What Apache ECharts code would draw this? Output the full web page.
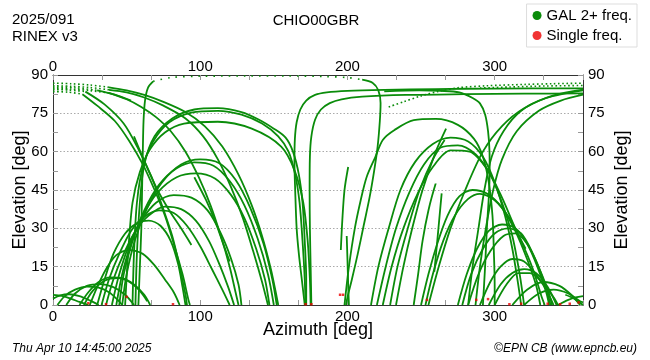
<!DOCTYPE html>
<html><head><meta charset="utf-8">
<script src="https://cdn.jsdelivr.net/npm/echarts@6/dist/echarts.min.js"></script>
<style>html,body{margin:0;padding:0;background:#fff}#c{width:650px;height:360px}</style>
</head><body><div id="c"></div>
<script>
// ---- tick labels ----
const azTicks = [0, 100, 200, 300];
const elTicks = [0, 15, 30, 45, 60, 75, 90];

// ---- satellite tracks [azimuth, elevation] ----
const lowArcsWest = [
  [[0,4],[6,3.6],[12,2.5],[18,1.2],[24,0]],
  [[0,2.5],[5,3.8],[11,4.2],[18,3.5],[25,1.8],[31,0]],
  [[3,0],[8,3.5],[15,6],[23,7.2],[31,6.8],[38,5],[44,2],[47,0]],
  [[9,0],[15,4.5],[23,7.5],[32,8.2],[41,7],[49,4],[55,0]],
  [[18,0],[24,5],[31,9],[39,10.8],[47,10.5],[55,8],[62,4],[66,0]],
  [[21,0],[27,5.5],[35,9.5],[44,10.5],[52,9],[59,5.5],[64,1.5]],
  [[25,0],[30,7],[36,14],[43,19.5],[52,21.5],[61,20],[69,15.5],[76,10],[82,5],[86,0]]
];
const midArcsWest = [
  [[30,0],[35,10],[41,20],[49,28],[57,32],[65,33],[73,31],[80,25],[85,16],[88,7],[90,0]],
  [[33,0],[38,10],[45,20],[53,29],[62,34.5],[72,37],[82,36],[91,31],[100,23],[108,14],[115,6],[120,0]],
  [[36,0],[41,10],[48,20],[56,29],[65,35],[76,38.5],[87,37.5],[97,33],[106,25],[113,16],[119,7],[123,0]],
  [[40,0],[45,12],[52,24],[60,33],[70,40],[82,43],[94,42],[105,37],[114,28],[121,18],[126,8],[128,0]],
  [[43,0],[47,12],[53,24],[61,35],[71,44],[84,50],[97,51.5],[110,49.5],[121,43],[130,34],[138,22],[144,10],[147,0]],
  [[45,0],[48,12],[54,25],[62,37],[72,47],[84,53.5],[96,55.8],[109,54.5],[120,48.5],[130,39],[139,26],[146,12],[150,0]],
  [[47,0],[50,12],[56,26],[64,38],[74,48],[87,55],[100,57],[113,55.5],[124,49],[134,38],[143,24],[149,10],[152,0]],
  [[55,66],[63,55],[71,45],[79,37],[87,30],[94,23.5]],
  [[96,50],[104,41],[110,33],[115,25],[120,17]]
];
const highArcsWest = [
  [[56,0],[57,20],[59,40],[62,55],[69,66],[81,73],[96,76.5],[112,77],[128,75.5],[140,72.5],[150,69],[158,65.5],[163,60],[167,51],[169.5,40],[171,25],[172,10],[172,0]],
  [[54,0],[55,20],[57,40],[61,54],[68,64],[79,71.5],[94,75.3],[112,76],[128,74.5],[142,71],[153,66],[160,60],[164.5,51],[167.5,40],[169.5,25],[171,10],[171.5,0]],
  [[49,0],[51,20],[54,40],[59,52],[66,61],[76,67.5],[89,71],[112,71.7],[135,69],[155,62],[164,52.8],[170,40],[173,25],[174.5,10],[175,0]],
  [[58,0],[59,15],[60,30],[60.5,45],[61,60],[61.5,72],[62.5,80],[64.5,85],[68,87.5]],
  [[171,0],[169,10],[167,20],[165.5,30],[164.5,45],[164,56],[164.3,65],[165.5,71.5],[168,76.5],[172,80],[178,82.2],[186,83.2],[200,83.8],[225,84.2],[260,84.5],[300,84.7],[360,84.8]],
  [[175.5,0],[175,15],[174.5,30],[174.3,45],[174.5,58],[175.5,66],[178,72.5],[182,76.5],[188,79],[196,80.5],[210,81.5],[240,82.2],[280,82.5],[320,82.7],[360,82.8]]
];
const descendingWest = [
  [[38,85.2],[50,84],[62,82.2],[75,79.5],[90,75.5],[103,70],[115,62],[126,51],[135,39],[142,27],[148,14],[152,3],[153,0]],
  [[38,84.2],[50,83.2],[62,81.2],[75,78],[90,73],[102,66],[112,57],[121,46],[129,34],[136,21],[142,9],[146,0]],
  [[38,83],[50,80.5],[60,77.5],[70,73.5],[80,68],[90,60],[99,50],[107,39],[114,27],[120,15],[124,5],[126,0]],
  [[30,84],[42,82.3],[53,80]],
  [[20,82.5],[30,78],[42,72],[52,64],[61,55],[69,45],[76,35],[82,24],[88,12],[92,2],[93,0]],
  [[22,83.5],[35,78.5],[48,71],[58,61],[67,50],[74,39],[81,27],[86,15],[90,4],[91,0]]
];
const nearZenithDotted = [
  [[0,86.8],[12,86.6],[25,86.1],[38,85.2]],
  [[0,85.8],[12,85.6],[25,85.1],[38,84.2]],
  [[0,84.8],[12,84.5],[25,83.9],[38,83]],
  [[0,85.3],[15,85],[30,84]],
  [[0,83.5],[10,83.3],[20,82.5]],
  [[0,84.3],[11,84.1],[22,83.5]],
  [[228,77.5],[238,79.5],[250,81.8],[262,83.6],[275,85],[295,85.8],[320,86.3],[340,86.6],[360,86.8]],
  [[290,84.9],[310,85.3],[335,85.7],[360,85.9]]
];
const zenithSparse = [
  [[68,87.5],[80,89],[100,89.5],[130,89.6],[160,89.6],[185,89.4],[200,89],[210,88.2]]
];
const descendingEast = [
  [[210,88.2],[217,87],[221,84],[222.5,79],[222,72],[220.5,62],[218,52],[215,42],[211,31],[207,20],[203,10],[200,3],[199,0]],
  [[225,83.6],[249,84],[263,83.8],[276,83.2],[285,81],[290,78.9],[293.5,74.5],[295.5,68],[296.5,60],[296.6,52],[296,42],[294.7,30],[293.5,15],[292,0]],
  [[195.5,21.5],[196.5,33],[198,45],[200.5,54]],
  [[199.5,27],[200,18],[200.5,8],[201,0]]
];
const arcsEast = [
  [[198,0],[201,15],[205,30],[209,41],[213,50],[219,58],[224,64.6],[232,68.5],[245,72.3],[260,72.8],[275,70.5],[286,65],[292,58],[296,48],[298.5,35],[299.5,20],[300,8],[300,0]],
  [[216,0],[221,15],[228,30],[236,45],[246,56],[258,63],[270,65.5],[282,64],[292,58],[300,48],[307,35],[312,22],[316,8],[318,0]],
  [[220,0],[226,15],[233,30],[242,44],[252,55],[263,61.5],[275,62.5],[287,59],[297,51],[305,40],[312,27],[317,12],[320,0]],
  [[224,0],[230,15],[238,30],[248,44],[258,54],[270,60.5],[283,60],[295,53],[305,42],[314,30],[321,22]],
  [[250,0],[255,12],[261,24],[268,35],[276,42.5],[285,45],[295,43.5],[305,38],[314,29],[322,18],[328,8],[331,0]],
  [[253,0],[258,12],[265,25],[273,35],[282,41.5],[290,43.5],[300,41],[310,34],[318,25],[326,14],[332,3],[334,0]],
  [[275,0],[281,12],[288,22],[296,29],[305,31.5],[314,30],[322,24],[329,15],[335,5],[337,0]],
  [[278,0],[284,12],[292,22],[300,28],[309,30],[318,28],[326,20],[333,10],[338,0]],
  [[282,0],[289,12],[297,21],[306,27],[314,28],[322,24],[329,16],[336,6],[339,0]],
  [[290,0],[297,9],[304,15],[312,18],[320,17],[328,12],[335,6],[340,0]],
  [[296,0],[304,8],[312,12.5],[320,14],[328,12.5],[336,7],[342,0]],
  [[300,0],[308,8],[316,12.5],[324,12.5],[332,9],[340,3],[343,0]],
  [[312,0],[322,6],[333,9],[344,7.5],[352,4],[358,0]],
  [[320,0],[330,4.5],[340,6],[350,4.5],[358,1.5],[360,1]],
  [[343,0],[350,2],[355,3],[360,3.5]],
  [[348,4],[354,2.5],[360,0]]
];
const risingEast = [
  [[282,0],[285,15],[289,30],[293,45],[298,58],[306,68],[318,76],[335,81],[360,84]],
  [[287,0],[290,15],[294,30],[299,45],[305,57],[315,68],[330,76],[345,80],[360,82.3]],
  [[255,0],[262,15],[270,30],[280,45],[292,60],[305,70],[320,77],[340,82],[360,84.3]],
  [[233,0],[238,15],[244,30],[251,45],[260,60],[267,69]],
  [[229,0],[234,15],[241,30],[249,45],[258,57],[266,64.6]],
  [[245,0],[248,12],[251,25],[255,37],[260,47.6]],
  [[259,13],[261,25],[262.6,35],[264,43.7]]
];
const singleFreq = [[24,0.7],[36,0.3],[50,3.2],[81.5,0.3],[171.6,0.3],[175.5,0.3],[195,4],[197,4],[254,2],[287.5,2],[295.5,2.3],[310,0.3],[318,0.5],[336,0.5],[344.5,0.3],[351,0.5],[357,1]];

// ---- build chart ----
const GREEN = '#0a8c0a', RED = '#ee0000', FONT = 'Liberation Sans';
const series = [];
function addSolid(list){ list.forEach(t => series.push({type:'line', name:'GAL 2+ freq.', data:t, smooth:0.3, symbol:'none', color:GREEN, lineStyle:{color:GREEN, width:1.8}, silent:true, animation:false, z:2})); }
function addDotted(list, pattern){ list.forEach(t => series.push({type:'line', name:'GAL 2+ freq.', data:t, smooth:0.3, symbol:'none', color:GREEN, lineStyle:{color:GREEN, width:1.6, type:pattern}, silent:true, animation:false, z:2})); }
[lowArcsWest, midArcsWest, highArcsWest, descendingWest, descendingEast, arcsEast, risingEast].forEach(addSolid);
addDotted(nearZenithDotted, [1.6, 2.6]);
addDotted(zenithSparse, [1.6, 6]);
series.push({type:'scatter', name:'Single freq.', data:singleFreq, symbol:'rect', symbolSize:[2.5,2.5], color:RED, itemStyle:{color:RED}, silent:true, animation:false, z:3});

const axisTxt = {fontFamily:FONT, fontSize:15, color:'#000'};
const nameTxt = {fontFamily:FONT, fontSize:18, color:'#000'};
function xAx(pos, withName){
  return {type:'value', position:pos, min:0, max:360, interval:100,
    name: withName ? 'Azimuth [deg]' : '', nameLocation:'middle', nameGap:16, nameMoveOverlap:false, nameTextStyle:nameTxt,
    axisLine:{show:true, onZero:false, lineStyle:{color:'#333', width:1}},
    axisTick:{show:true, inside:true, length:5, lineStyle:{color:'#999'}},
    minorTick:{show:true, splitNumber:3, length:5, lineStyle:{color:'#999'}},
    axisLabel:Object.assign({margin: pos==='top' ? 1 : 4, showMaxLabel:false, formatter:v => azTicks.includes(v) ? String(v) : ''}, axisTxt),
    splitLine:{show:false}};
}
function yAx(pos){
  return {type:'value', position:pos, min:0, max:90, interval:15,
    name:'Elevation [deg]', nameLocation:'middle', nameRotate:90, nameGap: pos==='left' ? 24 : 30, nameMoveOverlap:false, nameTextStyle:nameTxt,
    axisLine:{show:true, onZero:false, lineStyle:{color:'#333', width:1}},
    axisTick:{show:true, inside:true, length:5, lineStyle:{color:'#999'}},
    minorTick:{show:true, splitNumber:2, length:5, lineStyle:{color:'#999'}},
    axisLabel:Object.assign({margin:5, formatter:v => elTicks.includes(v) ? String(v) : ''}, axisTxt),
    splitLine:{show: pos==='left', lineStyle:{color:'#aaa', type:[1.5,2], width:1}}};
}

const chart = echarts.init(document.getElementById('c'), null, {renderer:'canvas'});
chart.setOption({
  animation:false,
  backgroundColor:'#fff',
  textStyle:{fontFamily:FONT},
  grid:{left:53, right:67, top:75, bottom:55, containLabel:false},
  xAxis:[xAx('bottom', true), xAx('top', false)],
  yAxis:[yAx('left'), yAx('right')],
  legend:{show:true, right:13, top:4, orient:'vertical', icon:'circle', itemWidth:9, itemHeight:9, itemGap:5,
    padding:[4,5,4,6], borderColor:'#ddd', borderWidth:1, backgroundColor:'#fff',
    textStyle:{fontFamily:FONT, fontSize:15, color:'#000'}, selectedMode:false,
    data:[{name:'GAL 2+ freq.', itemStyle:{color:GREEN}}, {name:'Single freq.', itemStyle:{color:RED}}]},
  graphic:[
    {type:'text', left:12, top:11, style:{text:'2025/091\nRINEX v3', font:'15px "Liberation Sans"', lineHeight:17, fill:'#000'}},
    {type:'text', x:316, top:13, style:{text:'CHIO00GBR', font:'15px "Liberation Sans"', fill:'#000', textAlign:'center'}},
    {type:'text', left:12, top:343, style:{text:'Thu Apr 10 14:45:00 2025', font:'italic 12px "Liberation Sans"', fill:'#000'}},
    {type:'text', right:13, top:343, style:{text:'\u00A9EPN CB (www.epncb.eu)', font:'italic 12px "Liberation Sans"', fill:'#000'}}
  ],
  series: series
});
</script></body></html>
